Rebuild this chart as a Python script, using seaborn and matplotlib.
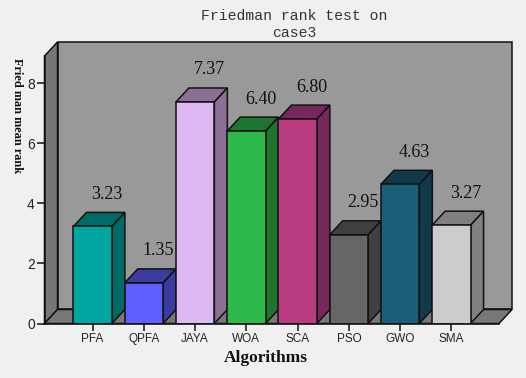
import matplotlib
matplotlib.use("Agg")
import matplotlib.pyplot as plt
from matplotlib.patches import Polygon
import seaborn as sns
import pandas as pd

algorithms = ["PFA", "QPFA", "JAYA", "WOA", "SCA", "PSO", "GWO", "SMA"]
mean_rank = [3.23, 1.35, 7.37, 6.40, 6.80, 2.95, 4.63, 3.27]
front_colors = ["#00A6A0", "#5F5FFF", "#DEB8F2", "#2FB84C", "#B93C80", "#666666", "#1A5F78", "#CCCCCC"]
shade_colors = ["#006A66", "#3B3BA0", "#8B6F96", "#1E7530", "#76285A", "#404040", "#103A4A", "#808080"]
yticks = [0, 2, 4, 6, 8]

W, H = 526, 378
BG = "#F0F0F0"
sns.set_theme(style="white", rc={"figure.facecolor": BG})
fig = plt.figure(figsize=(W / 100, H / 100), dpi=100, facecolor=BG)
L, R, B, T = 44.5, 499.0, 323.5, 56.0
ax = fig.add_axes([L / W, 1 - B / H, (R - L) / W, (B - T) / H])
ax.patch.set_alpha(0)
xmin, xmax, ymin, ymax = -0.94, 7.93, 0, 8.9
ax.set_xlim(xmin, xmax)
ax.set_ylim(ymin, ymax)
dx = 13 / 51.2
dy = 14 / 30.05
bw = 0.75
ek = dict(edgecolor="#111111", linewidth=1.1, clip_on=False)

# walls and floor
ax.add_patch(Polygon([(xmin + dx, ymin + dy), (xmax + dx, ymin + dy), (xmax + dx, ymax + dy), (xmin + dx, ymax + dy)],
                     facecolor="#999999", zorder=0.5, **ek))
ax.add_patch(Polygon([(xmin, ymin), (xmin + dx, ymin + dy), (xmin + dx, ymax + dy), (xmin, ymax)],
                     facecolor="#767676", zorder=0.6, **ek))
ax.add_patch(Polygon([(xmin, ymin), (xmax, ymin), (xmax + dx, ymin + dy), (xmin + dx, ymin + dy)],
                     facecolor="#787878", zorder=0.6, **ek))

df = pd.DataFrame({"alg": algorithms, "rank": mean_rank})
sns.barplot(data=df, x="alg", y="rank", hue="alg", palette=front_colors, legend=False, width=bw,
            saturation=1, edgecolor="#111111", linewidth=1.1, ax=ax, zorder=3)
ax.set_xlim(xmin, xmax)
ax.set_ylim(ymin, ymax)

for i, v in enumerate(mean_rank):
    l, r = i - bw / 2, i + bw / 2
    ax.add_patch(Polygon([(l, v), (r, v), (r + dx, v + dy), (l + dx, v + dy)], facecolor=shade_colors[i], zorder=2, **ek))
    ax.add_patch(Polygon([(r, 0), (r + dx, dy), (r + dx, v + dy), (r, v)], facecolor=shade_colors[i], zorder=2, **ek))
    ax.annotate(f"{v:.2f}", (i, v), xytext=(14 * 0.72, 32 * 0.72), textcoords="offset points",
                ha="center", va="center", fontsize=13, family="Liberation Serif", color="#111111",
                zorder=5, annotation_clip=False)

for s in ["top", "right"]:
    ax.spines[s].set_visible(False)
for s in ["left", "bottom"]:
    ax.spines[s].set_color("#111111")
    ax.spines[s].set_linewidth(1.1)
    ax.spines[s].set_zorder(4)

ax.set_yticks(yticks)
ax.set_yticklabels([str(t) for t in yticks], family="Liberation Sans", fontsize=10, color="#222222")
ax.tick_params(axis="y", left=True, length=6, width=1.1, color="#111111", pad=1)
ax.tick_params(axis="x", bottom=True, length=5, width=1.1, color="#111111", pad=1.5)
ax.set_xticks(range(len(algorithms)))
ax.set_xticklabels(algorithms, family="Liberation Sans", fontsize=8.5, color="#222222")
ax.set_xlabel("")
ax.set_ylabel("")

fig.text(294.5 / W, 1 - 24.5 / H, "Friedman rank test on\ncase3", ha="center", va="center", fontsize=10.6,
         family="Liberation Mono", color="#333333", linespacing=1.25)
fig.text(266 / W, 1 - 358 / H, "Algorithms", ha="center", va="center", fontsize=12.5,
         family="Liberation Serif", weight="bold", color="#111111")
fig.text(16.5 / W, 1 - 116 / H, "Fried man mean rank", ha="center", va="center", rotation=-90, fontsize=8.8,
         family="Liberation Serif", weight="bold", color="#111111")

fig.savefig("out.png", dpi=100, facecolor=BG)
